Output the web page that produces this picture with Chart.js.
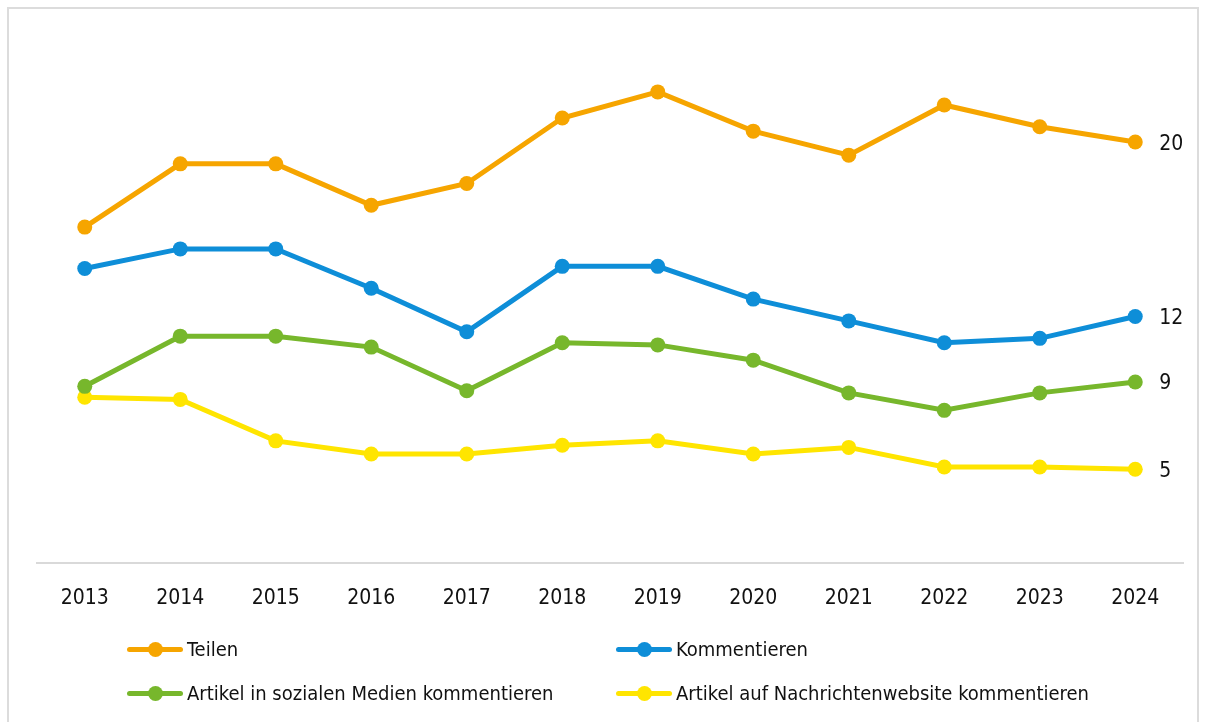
<!DOCTYPE html>
<html>
<head>
<meta charset="utf-8">
<script src="https://cdn.jsdelivr.net/npm/chart.js@4"></script>
<style>
  html, body { margin: 0; padding: 0; background: #fff; }
  #wrap { position: relative; width: 1210px; height: 722px; }
  #frame { position: absolute; left: 7px; top: 7px; width: 1192px; height: 720px; border: 2px solid #dcdcdc; box-sizing: border-box; pointer-events: none; }
  #legend { position: absolute; left: 127px; top: 627px; display: grid; grid-template-columns: 489px 500px; row-gap: 0; font-family: 'Liberation Sans Narrow', 'DejaVu Sans Condensed', Roboto, sans-serif; font-size: 20px; color: #111; }
  .item { display: flex; align-items: center; height: 44px; }
  .mark { position: relative; width: 56px; height: 5px; border-radius: 3px; margin-right: 4px; }
  .mark span { position: absolute; left: 21px; top: -5px; width: 15px; height: 15px; border-radius: 50%; }
</style>
</head>
<body>
<div id="wrap">
  <canvas id="chart" width="1210" height="722"></canvas>
  <div id="frame"></div>
  <div id="legend"></div>
</div>
<script>
  // Jahre
  const years = ['2013', '2014', '2015', '2016', '2017', '2018', '2019', '2020', '2021', '2022', '2023', '2024']

  // Werte in Prozent
  const teilen = [16.1, 19.0, 19.0, 17.1, 18.1, 21.1, 22.3, 20.5, 19.4, 21.7, 20.7, 20.0]
  const kommentieren = [14.2, 15.1, 15.1, 13.3, 11.3, 14.3, 14.3, 12.8, 11.8, 10.8, 11.0, 12.0]
  const sozialeMedien = [8.8, 11.1, 11.1, 10.6, 8.6, 10.8, 10.7, 10.0, 8.5, 7.7, 8.5, 9.0]
  const nachrichtenseite = [8.3, 8.2, 6.3, 5.7, 5.7, 6.1, 6.3, 5.7, 6.0, 5.1, 5.1, 5.0]

  const seriesNames = [
    'Teilen',
    'Kommentieren',
    'Artikel in sozialen Medien kommentieren',
    'Artikel auf Nachrichtenwebsite kommentieren'
  ]
  const seriesData = [teilen, kommentieren, sozialeMedien, nachrichtenseite]
  const colors = ['#F6A500', '#0E8ED8', '#77B72C', '#FFE500']

  const fontFamily = "'Liberation Sans Narrow', 'DejaVu Sans Condensed', Roboto, sans-serif"

  // Wert am Ende jeder Linie
  const endLabels = {
    id: 'endLabels',
    afterDatasetsDraw(chart) {
      const c = chart.ctx
      c.save()
      c.font = '21px ' + fontFamily
      c.fillStyle = '#111'
      c.textBaseline = 'middle'
      chart.data.datasets.forEach((ds, i) => {
        const pts = chart.getDatasetMeta(i).data
        const last = pts[pts.length - 1]
        const v = ds.data[ds.data.length - 1]
        c.fillText(Math.round(v).toString(), last.x + 24, last.y + 2)
      })
      c.restore()
    }
  }

  const chart = new Chart(document.getElementById('chart'), {
    type: 'line',
    data: {
      labels: years,
      datasets: seriesData.map((d, i) => ({
        label: seriesNames[i],
        data: d,
        borderColor: colors[i],
        backgroundColor: colors[i],
        pointBackgroundColor: colors[i],
        pointBorderWidth: 0,
        pointRadius: 7.5,
        borderWidth: 5,
        tension: 0
      }))
    },
    options: {
      responsive: false,
      animation: false,
      layout: { padding: { left: 37, right: 27, top: 33, bottom: 0 } },
      plugins: {
        legend: { display: false },
        tooltip: { enabled: false }
      },
      scales: {
        x: {
          offset: true,
          grid: { display: false, drawTicks: false },
          border: { color: '#d9d9d9', width: 2 },
          ticks: { color: '#111', padding: 23, font: { family: fontFamily, size: 21 } },
          afterFit(scale) { scale.height = 159 }
        },
        y: {
          display: false,
          min: 0.7,
          max: 25
        }
      }
    },
    plugins: [endLabels]
  })

  // Legende in zwei Spalten
  const legend = document.getElementById('legend')
  seriesNames.forEach((name, i) => {
    const item = document.createElement('div')
    item.className = 'item'
    item.innerHTML = '<div class="mark" style="background:' + colors[i] + '"><span style="background:' + colors[i] + '"></span></div>' + name
    legend.appendChild(item)
  })
</script>
</body>
</html>
